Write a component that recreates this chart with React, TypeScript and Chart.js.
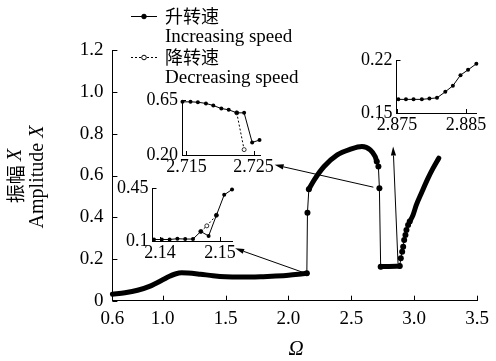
import React, { useEffect, useRef } from "react";
import { Chart, registerables } from "chart.js";

Chart.register(...registerables);

const PAGE_W = 496;
const PAGE_H = 361;
const SERIF = '"Liberation Serif", "Times New Roman", serif';
const CJK = '"Noto Sans CJK SC", "Noto Sans CJK JP", sans-serif';

// ---------- main chart axes ----------
const xTickValues = [0.6, 1.0, 1.5, 2.0, 2.5, 3.0, 3.5];
const xTickLabels = ["0.6", "1.0", "1.5", "2.0", "2.5", "3.0", "3.5"];
const yTickValues = [0, 0.2, 0.4, 0.6, 0.8, 1.0, 1.2];
const yTickLabels = ["0", "0.2", "0.4", "0.6", "0.8", "1.0", "1.2"];

// ---------- main chart: increasing speed branches ----------
const lowOmega = [0.6, 0.7, 0.8, 0.9, 1.0, 1.05, 1.1, 1.15, 1.2, 1.3, 1.4, 1.5, 1.6, 1.7, 1.8, 1.9, 2.0, 2.1, 2.146];
const lowAmp = [0.031, 0.038, 0.05, 0.07, 0.1, 0.116, 0.128, 0.134, 0.133, 0.127, 0.12, 0.115, 0.113, 0.113, 0.115, 0.118, 0.122, 0.128, 0.131];

const jump1Omega = [2.146, 2.151, 2.162];
const jump1Amp = [0.131, 0.422, 0.534];

const highOmega = [2.162, 2.205, 2.283, 2.388, 2.492, 2.584, 2.65, 2.689, 2.702];
const highAmp = [0.534, 0.579, 0.643, 0.699, 0.726, 0.739, 0.723, 0.691, 0.667];

const jump2Omega = [2.702, 2.715, 2.723, 2.733];
const jump2Amp = [0.667, 0.643, 0.539, 0.163];

const flatOmega = [2.733, 2.8, 2.885];
const flatAmp = [0.163, 0.164, 0.166];

const riseDotOmega = [2.885, 2.893, 2.904, 2.912, 2.92, 2.93, 2.938, 2.951, 2.964];
const riseDotAmp = [0.166, 0.203, 0.235, 0.259, 0.291, 0.315, 0.339, 0.363, 0.379];

const riseOmega = [2.964, 2.99, 3.016, 3.06, 3.108, 3.15, 3.195];
const riseAmp = [0.379, 0.41, 0.458, 0.52, 0.585, 0.635, 0.683];

// ---------- arrows (data coordinates of main chart) ----------
const arrowFromOmega = [2.138, 2.675, 2.871];
const arrowFromAmp = [0.131, 0.544, 0.179];
const arrowToOmega = [1.576, 1.89, 2.832];
const arrowToAmp = [0.251, 0.651, 0.739];

// ---------- legend / titles ----------
const legendCn = ["升转速", "降转速"];
const legendEn = ["Increasing speed", "Decreasing speed"];
const yTitleCn = "振幅";
const yTitleEn = "Amplitude";
const yTitleVar = "X";
const xTitle = "Ω";

// ---------- inset A (2.715 – 2.725) ----------
const insetAOmega = [2.7144, 2.7156, 2.7167, 2.7179, 2.719, 2.7202, 2.7213, 2.7225, 2.7236, 2.7248, 2.7259];
const insetAInc = [0.635, 0.635, 0.632, 0.622, 0.605, 0.58, 0.57, 0.545, 0.545, 0.303, 0.322];
const insetADecOmega = [2.7225, 2.7236];
const insetADec = [0.545, 0.244];
const insetAXTicks = [2.715, 2.725];
const insetAXLabels = ["2.715", "2.725"];
const insetAYTicks = [0.2, 0.65];
const insetAYLabels = ["0.20", "0.65"];

// ---------- inset B (2.14 – 2.15) ----------
const insetBOmega = [2.139, 2.1403, 2.1416, 2.1429, 2.1442, 2.1455, 2.1468, 2.1481, 2.1494, 2.1507, 2.152];
const insetBInc = [0.11, 0.11, 0.11, 0.115, 0.113, 0.113, 0.163, 0.133, 0.27, 0.405, 0.44];
const insetBDecOmega = [2.1468, 2.1478, 2.1494];
const insetBDec = [0.163, 0.2, 0.27];
const insetBXTicks = [2.14, 2.15];
const insetBXLabels = ["2.14", "2.15"];
const insetBYTicks = [0.1, 0.45];
const insetBYLabels = ["0.1", "0.45"];

// ---------- inset C (2.875 – 2.885) ----------
const insetCOmega = [2.8752, 2.8763, 2.8774, 2.8786, 2.8797, 2.8808, 2.882, 2.8831, 2.8842, 2.8853, 2.8865];
const insetCInc = [0.168, 0.168, 0.168, 0.168, 0.169, 0.17, 0.178, 0.186, 0.2, 0.207, 0.215];
const insetCXTicks = [2.875, 2.885];
const insetCXLabels = ["2.875", "2.885"];
const insetCYTicks = [0.15, 0.22];
const insetCYLabels = ["0.15", "0.22"];

const pts = (xs: number[], ys: number[]) => xs.map((x, i) => ({ x, y: ys[i] }));

const inwardTicks = {
  id: "inwardTicks",
  afterDraw(chart: any, _args: any, opts: any) {
    const ctx = chart.ctx;
    const len = opts && opts.length ? opts.length : 5;
    const xs = chart.scales.x;
    const ys = chart.scales.y;
    const a = chart.chartArea;
    ctx.save();
    ctx.strokeStyle = "#000";
    ctx.lineWidth = 1;
    ctx.beginPath();
    xs.ticks.forEach((t: any) => {
      const px = Math.round(xs.getPixelForValue(t.value)) + 0.5;
      ctx.moveTo(px, a.bottom);
      ctx.lineTo(px, a.bottom - len);
    });
    ys.ticks.forEach((t: any) => {
      const py = Math.round(ys.getPixelForValue(t.value)) + 0.5;
      ctx.moveTo(a.left, py);
      ctx.lineTo(a.left + len, py);
    });
    ctx.stroke();
    ctx.restore();
  },
};

function drawRich(ctx: CanvasRenderingContext2D, parts: { text: string; font: string }[], cx: number, cy: number, rot: number) {
  ctx.save();
  ctx.translate(cx, cy);
  ctx.rotate(rot);
  let total = 0;
  parts.forEach((p) => {
    ctx.font = p.font;
    total += ctx.measureText(p.text).width;
  });
  let x = -total / 2;
  ctx.textBaseline = "middle";
  ctx.textAlign = "left";
  ctx.fillStyle = "#000";
  parts.forEach((p) => {
    ctx.font = p.font;
    ctx.fillText(p.text, x, 0);
    x += ctx.measureText(p.text).width;
  });
  ctx.restore();
}

const decor = {
  id: "decor",
  afterDraw(chart: any) {
    const ctx: CanvasRenderingContext2D = chart.ctx;
    const xs = chart.scales.x;
    const ys = chart.scales.y;
    ctx.save();
    // arrows
    ctx.strokeStyle = "#000";
    ctx.fillStyle = "#000";
    ctx.lineWidth = 1;
    arrowFromOmega.forEach((_, i) => {
      const x1 = xs.getPixelForValue(arrowFromOmega[i]);
      const y1 = ys.getPixelForValue(arrowFromAmp[i]);
      const x2 = xs.getPixelForValue(arrowToOmega[i]);
      const y2 = ys.getPixelForValue(arrowToAmp[i]);
      const ang = Math.atan2(y2 - y1, x2 - x1);
      const hl = 9, hw = 2.6;
      const bx = x2 - hl * Math.cos(ang), by = y2 - hl * Math.sin(ang);
      ctx.beginPath();
      ctx.moveTo(x1, y1);
      ctx.lineTo(bx, by);
      ctx.stroke();
      ctx.beginPath();
      ctx.moveTo(x2, y2);
      ctx.lineTo(bx + hw * Math.sin(ang), by - hw * Math.cos(ang));
      ctx.lineTo(bx - hw * Math.sin(ang), by + hw * Math.cos(ang));
      ctx.closePath();
      ctx.fill();
    });
    // legend
    const lx1 = 131, lx2 = 157, tx = 165;
    const rows = [16, 57];
    rows.forEach((ry, i) => {
      ctx.beginPath();
      ctx.setLineDash(i === 0 ? [] : [2, 2]);
      ctx.moveTo(lx1, ry + 0.5);
      ctx.lineTo(lx2, ry + 0.5);
      ctx.stroke();
      ctx.setLineDash([]);
      ctx.beginPath();
      ctx.arc((lx1 + lx2) / 2, ry + 0.5, 2.3, 0, Math.PI * 2);
      ctx.fillStyle = i === 0 ? "#000" : "#fff";
      ctx.fill();
      ctx.stroke();
      ctx.fillStyle = "#000";
      ctx.textAlign = "left";
      ctx.textBaseline = "middle";
      ctx.font = `18px ${CJK}`;
      ctx.fillText(legendCn[i], tx, ry);
      ctx.font = `19px ${SERIF}`;
      ctx.fillText(legendEn[i], tx, ry + 21);
    });
    ctx.restore();
    // y title
    drawRich(ctx, [
      { text: yTitleCn + " ", font: `19px ${CJK}` },
      { text: yTitleVar, font: `italic 20px ${SERIF}` },
    ], 16, 176, -Math.PI / 2);
    drawRich(ctx, [
      { text: yTitleEn + " ", font: `20px ${SERIF}` },
      { text: yTitleVar, font: `italic 20px ${SERIF}` },
    ], 38, 177, -Math.PI / 2);
    // x title
    drawRich(ctx, [{ text: xTitle, font: `italic 21px ${SERIF}` }], 296, 349, 0);
  },
};

function axisOpts(min: number, max: number, tickVals: number[], tickLabels: string[], pad: number, size: number, fit: (s: any) => void) {
  return {
    type: "linear" as const,
    min,
    max,
    afterBuildTicks: (s: any) => {
      s.ticks = tickVals.map((v) => ({ value: v }));
    },
    afterFit: fit,
    grid: { display: false, drawTicks: false },
    border: { display: true, color: "#000", width: 1 },
    ticks: {
      autoSkip: false,
      maxRotation: 0,
      padding: pad,
      color: "#000",
      font: { family: SERIF, size },
      callback: (_v: any, i: number) => tickLabels[i],
    },
  };
}

const thick = (data: any) => ({
  data,
  borderColor: "#000",
  borderWidth: 5,
  borderCapStyle: "round",
  borderJoinStyle: "round",
  pointRadius: 0,
  cubicInterpolationMode: "monotone",
  clip: false,
});
const dotted = (data: any) => ({
  data,
  borderColor: "#000",
  borderWidth: 1,
  pointRadius: 3,
  pointBackgroundColor: "#000",
  pointBorderColor: "#000",
  pointBorderWidth: 0,
  tension: 0,
  clip: false,
});

function mainConfig(): any {
  const area = { left: 112.4, right: 481.7, top: 50.3, bottom: 300.7 };
  return {
    type: "line",
    data: {
      datasets: [
        thick(pts(lowOmega, lowAmp)),
        dotted(pts(jump1Omega, jump1Amp)),
        thick(pts(highOmega, highAmp)),
        dotted(pts(jump2Omega, jump2Amp)),
        thick(pts(flatOmega, flatAmp)),
        dotted(pts(riseDotOmega, riseDotAmp)),
        thick(pts(riseOmega, riseAmp)),
      ],
    },
    options: {
      responsive: false,
      animation: false,
      events: [],
      layout: { padding: { left: 0, top: area.top, right: PAGE_W - area.right, bottom: 0 } },
      plugins: { legend: { display: false }, tooltip: { enabled: false }, inwardTicks: { length: 5 } },
      scales: {
        x: axisOpts(0.6, 3.5, xTickValues, xTickLabels, 7, 19, (s: any) => { s.height = PAGE_H - area.bottom; }),
        y: axisOpts(0, 1.2, yTickValues, yTickLabels, 9, 19, (s: any) => { s.width = area.left; }),
      },
    },
    plugins: [inwardTicks, decor],
  };
}

function insetConfig(o: any): any {
  const YW = 40, XH = 25;
  const datasets: any[] = [
    {
      data: pts(o.incX, o.incY),
      borderColor: "#000",
      borderWidth: 1,
      pointRadius: 2,
      pointBackgroundColor: "#000",
      pointBorderColor: "#000",
      pointBorderWidth: 0,
      tension: 0,
      clip: false,
    },
  ];
  if (o.decX) {
    datasets.push({
      data: pts(o.decX, o.decY),
      borderColor: "#000",
      borderWidth: 1,
      borderDash: [2, 2],
      pointRadius: 2,
      pointBackgroundColor: "#fff",
      pointBorderColor: "#000",
      pointBorderWidth: 0.8,
      tension: 0,
      clip: false,
    });
  }
  return {
    type: "line",
    data: { datasets },
    options: {
      responsive: false,
      animation: false,
      events: [],
      layout: {
        padding: {
          left: o.area.left - YW,
          top: o.area.top,
          right: PAGE_W - o.area.right,
          bottom: PAGE_H - o.area.bottom - XH,
        },
      },
      plugins: { legend: { display: false }, tooltip: { enabled: false }, inwardTicks: { length: 4 } },
      scales: {
        x: axisOpts(o.xMin, o.xMax, o.xTicks, o.xLabels, 1, 18, (s: any) => { s.height = XH; }),
        y: axisOpts(o.yMin, o.yMax, o.yTicks, o.yLabels, 4, 18, (s: any) => { s.width = YW; }),
      },
    },
    plugins: [inwardTicks],
  };
}

const insets = [
  {
    area: { left: 182, right: 260, top: 100, bottom: 155 },
    xMin: 2.71433, xMax: 2.72597, yMin: 0.2, yMax: 0.65,
    incX: insetAOmega, incY: insetAInc, decX: insetADecOmega, decY: insetADec,
    xTicks: insetAXTicks, xLabels: insetAXLabels, yTicks: insetAYTicks, yLabels: insetAYLabels,
  },
  {
    area: { left: 152.5, right: 232.5, top: 188, bottom: 241 },
    xMin: 2.13875, xMax: 2.15208, yMin: 0.1, yMax: 0.45,
    incX: insetBOmega, incY: insetBInc, decX: insetBDecOmega, decY: insetBDec,
    xTicks: insetBXTicks, xLabels: insetBXLabels, yTicks: insetBYTicks, yLabels: insetBYLabels,
  },
  {
    area: { left: 396.5, right: 476, top: 60, bottom: 113 },
    xMin: 2.87493, xMax: 2.88645, yMin: 0.15, yMax: 0.22,
    incX: insetCOmega, incY: insetCInc,
    xTicks: insetCXTicks, xLabels: insetCXLabels, yTicks: insetCYTicks, yLabels: insetCYLabels,
  },
];

export default function App() {
  const mainRef = useRef<HTMLCanvasElement>(null);
  const aRef = useRef<HTMLCanvasElement>(null);
  const bRef = useRef<HTMLCanvasElement>(null);
  const cRef = useRef<HTMLCanvasElement>(null);

  useEffect(() => {
    Chart.defaults.font.family = SERIF;
    Chart.defaults.color = "#000";
    const charts: Chart[] = [];
    if (mainRef.current) charts.push(new Chart(mainRef.current, mainConfig()));
    [aRef, bRef, cRef].forEach((r, i) => {
      if (r.current) charts.push(new Chart(r.current, insetConfig(insets[i])));
    });
    return () => charts.forEach((c) => c.destroy());
  }, []);

  const cs: React.CSSProperties = { position: "absolute", left: 0, top: 0, width: PAGE_W, height: PAGE_H };
  return (
    <div style={{ position: "fixed", left: 0, top: 0, width: PAGE_W, height: PAGE_H, background: "#fff" }}>
      <canvas ref={mainRef} width={PAGE_W} height={PAGE_H} style={cs} />
      <canvas ref={aRef} width={PAGE_W} height={PAGE_H} style={cs} />
      <canvas ref={bRef} width={PAGE_W} height={PAGE_H} style={cs} />
      <canvas ref={cRef} width={PAGE_W} height={PAGE_H} style={cs} />
    </div>
  );
}
